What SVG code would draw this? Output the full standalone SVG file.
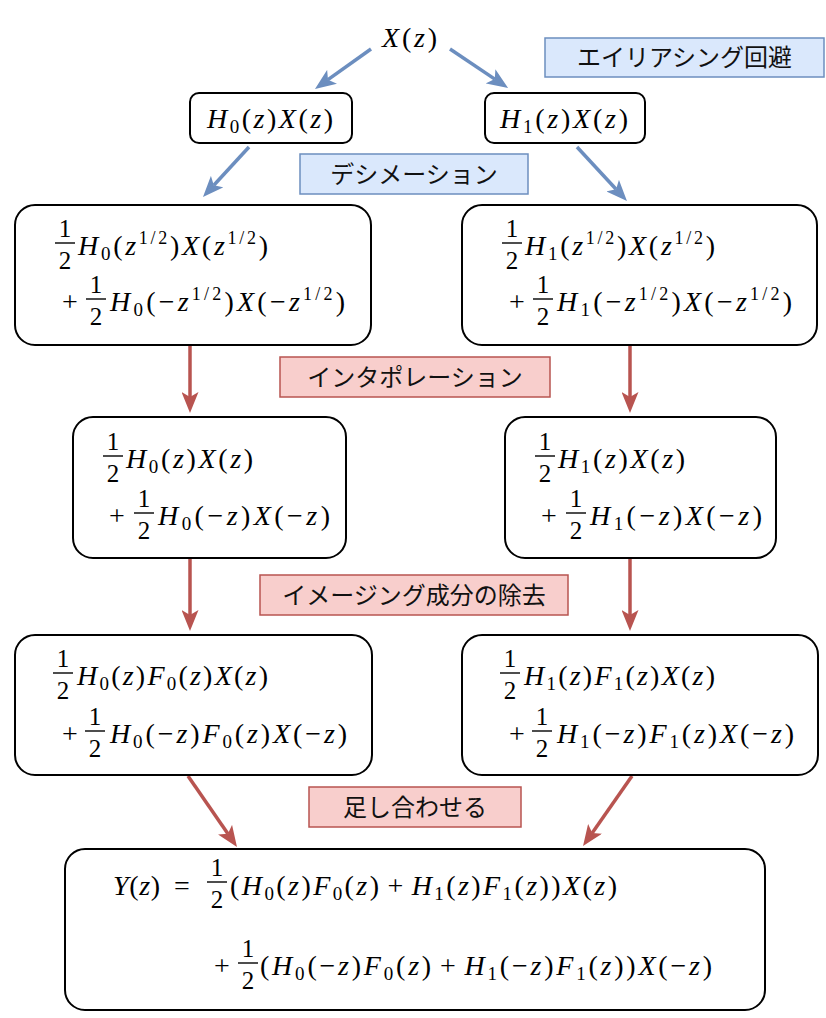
<svg xmlns="http://www.w3.org/2000/svg" width="826" height="1018" viewBox="0 0 826 1018">
<style>
.bx{fill:#fff;stroke:#000;stroke-width:2}
.m{font-family:"Liberation Serif","DejaVu Serif","Times New Roman",serif;font-size:28px;fill:#000}
.i{font-style:italic}
.fr{font-family:"Liberation Serif","DejaVu Serif","Times New Roman",serif;font-size:25px;fill:#000;text-anchor:middle}
.bar{stroke:#000;stroke-width:1.4}
.lb{fill:#dae8fc;stroke:#6c8ebf;stroke-width:1.5}
.lr{fill:#f8cecc;stroke:#b85450;stroke-width:1.5}
.jp{font-family:"Noto Sans CJK JP","Noto Sans CJK SC",sans-serif;font-size:24px;fill:#111;text-anchor:middle}
.ab{stroke:#6c8ebf;stroke-width:3.5;fill:none;marker-end:url(#mb)}
.ar{stroke:#b85450;stroke-width:3.5;fill:none;marker-end:url(#mr)}
</style>
<defs>
<marker id="mb" markerUnits="userSpaceOnUse" markerWidth="21" markerHeight="17" refX="5" refY="8.5" orient="auto"><path d="M0,0 L21,8.5 L0,17 L5,8.5 Z" fill="#6c8ebf"/></marker>
<marker id="mr" markerUnits="userSpaceOnUse" markerWidth="21" markerHeight="17" refX="5" refY="8.5" orient="auto"><path d="M0,0 L21,8.5 L0,17 L5,8.5 Z" fill="#b85450"/></marker>
</defs>
<rect width="826" height="1018" fill="#fff"/>

<g id="connectors">
<line class="ab" x1="371" y1="49" x2="328" y2="79.7"/>
<line class="ab" x1="450" y1="49" x2="494.8" y2="79.1"/>
<line class="ab" x1="249" y1="147" x2="213.8" y2="185.3"/>
<line class="ab" x1="577" y1="147" x2="616.1" y2="189.3"/>
<line class="ar" x1="190" y1="346" x2="190" y2="397"/>
<line class="ar" x1="630" y1="346" x2="630" y2="397"/>
<line class="ar" x1="190" y1="559" x2="190" y2="615"/>
<line class="ar" x1="630" y1="559" x2="630" y2="615"/>
<line class="ar" x1="188" y1="776" x2="227.9" y2="833.8"/>
<line class="ar" x1="632" y1="776" x2="592.2" y2="832.9"/>
</g>

<g id="label-aliasing">
<rect class="lb" x="545" y="38" width="279" height="39"/>
<text class="jp" x="684.5" y="66">エイリアシング回避</text>
</g>
<g id="label-decimation">
<rect class="lb" x="300" y="154" width="228" height="40"/>
<text class="jp" x="414" y="182.5">デシメーション</text>
</g>
<g id="label-interpolation">
<rect class="lr" x="280" y="357" width="270" height="40"/>
<text class="jp" x="415" y="385.5">インタポレーション</text>
</g>
<g id="label-imaging">
<rect class="lr" x="260" y="575" width="308" height="40"/>
<text class="jp" x="414" y="603.5">イメージング成分の除去</text>
</g>
<g id="label-sum">
<rect class="lr" x="309" y="787" width="212" height="40"/>
<text class="jp" x="415" y="815.5">足し合わせる</text>
</g>

<g id="node-x">
<text class="m" x="382" y="47" textLength="55" lengthAdjust="spacing"><tspan class="i">X</tspan>(<tspan class="i">z</tspan>)</text>
</g>

<g id="node-h0x">
<rect class="bx" x="190" y="93" width="162" height="50" rx="9"/>
<text class="m" x="207" y="128" textLength="126" lengthAdjust="spacing"><tspan class="i">H</tspan><tspan font-size="19" dy="5">0</tspan><tspan dy="-5">(</tspan><tspan class="i">z</tspan>)<tspan class="i">X</tspan>(<tspan class="i">z</tspan>)</text>
</g>
<g id="node-h1x">
<rect class="bx" x="485" y="93" width="160" height="50" rx="9"/>
<text class="m" x="500" y="128" textLength="128" lengthAdjust="spacing"><tspan class="i">H</tspan><tspan font-size="19" dy="5">1</tspan><tspan dy="-5">(</tspan><tspan class="i">z</tspan>)<tspan class="i">X</tspan>(<tspan class="i">z</tspan>)</text>
</g>

<g id="node-dec0">
<rect class="bx" x="15" y="205" width="356" height="140" rx="20"/>
<line class="bar" x1="55" y1="243" x2="75" y2="243"/>
<text class="fr" x="65" y="237">1</text><text class="fr" x="65" y="269">2</text>
<text class="m" x="78" y="255" textLength="190" lengthAdjust="spacing"><tspan class="i">H</tspan><tspan font-size="19" dy="5">0</tspan><tspan dy="-5">(</tspan><tspan class="i">z</tspan><tspan font-size="18" dy="-11">1/2</tspan><tspan dy="11">)</tspan><tspan class="i">X</tspan>(<tspan class="i">z</tspan><tspan font-size="18" dy="-11">1/2</tspan><tspan dy="11">)</tspan></text>
<text class="m" x="62" y="311">+</text>
<line class="bar" x1="86" y1="299" x2="106" y2="299"/>
<text class="fr" x="96" y="293">1</text><text class="fr" x="96" y="325">2</text>
<text class="m" x="110" y="311" textLength="235" lengthAdjust="spacing"><tspan class="i">H</tspan><tspan font-size="19" dy="5">0</tspan><tspan dy="-5">(−</tspan><tspan class="i">z</tspan><tspan font-size="18" dy="-11">1/2</tspan><tspan dy="11">)</tspan><tspan class="i">X</tspan>(−<tspan class="i">z</tspan><tspan font-size="18" dy="-11">1/2</tspan><tspan dy="11">)</tspan></text>
</g>

<g id="node-dec1">
<rect class="bx" x="462" y="205" width="355" height="140" rx="20"/>
<line class="bar" x1="502" y1="243" x2="522" y2="243"/>
<text class="fr" x="512" y="237">1</text><text class="fr" x="512" y="269">2</text>
<text class="m" x="525" y="255" textLength="190" lengthAdjust="spacing"><tspan class="i">H</tspan><tspan font-size="19" dy="5">1</tspan><tspan dy="-5">(</tspan><tspan class="i">z</tspan><tspan font-size="18" dy="-11">1/2</tspan><tspan dy="11">)</tspan><tspan class="i">X</tspan>(<tspan class="i">z</tspan><tspan font-size="18" dy="-11">1/2</tspan><tspan dy="11">)</tspan></text>
<text class="m" x="509" y="311">+</text>
<line class="bar" x1="533" y1="299" x2="553" y2="299"/>
<text class="fr" x="543" y="293">1</text><text class="fr" x="543" y="325">2</text>
<text class="m" x="557" y="311" textLength="235" lengthAdjust="spacing"><tspan class="i">H</tspan><tspan font-size="19" dy="5">1</tspan><tspan dy="-5">(−</tspan><tspan class="i">z</tspan><tspan font-size="18" dy="-11">1/2</tspan><tspan dy="11">)</tspan><tspan class="i">X</tspan>(−<tspan class="i">z</tspan><tspan font-size="18" dy="-11">1/2</tspan><tspan dy="11">)</tspan></text>
</g>

<g id="node-int0">
<rect class="bx" x="73" y="417" width="273" height="141" rx="20"/>
<line class="bar" x1="103" y1="456" x2="123" y2="456"/>
<text class="fr" x="113" y="450">1</text><text class="fr" x="113" y="482">2</text>
<text class="m" x="126" y="468" textLength="127" lengthAdjust="spacing"><tspan class="i">H</tspan><tspan font-size="19" dy="5">0</tspan><tspan dy="-5">(</tspan><tspan class="i">z</tspan>)<tspan class="i">X</tspan>(<tspan class="i">z</tspan>)</text>
<text class="m" x="109" y="525">+</text>
<line class="bar" x1="134" y1="513" x2="154" y2="513"/>
<text class="fr" x="144" y="507">1</text><text class="fr" x="144" y="539">2</text>
<text class="m" x="158" y="525" textLength="172" lengthAdjust="spacing"><tspan class="i">H</tspan><tspan font-size="19" dy="5">0</tspan><tspan dy="-5">(−</tspan><tspan class="i">z</tspan>)<tspan class="i">X</tspan>(−<tspan class="i">z</tspan>)</text>
</g>

<g id="node-int1">
<rect class="bx" x="505" y="417" width="271" height="141" rx="20"/>
<line class="bar" x1="535" y1="456" x2="555" y2="456"/>
<text class="fr" x="545" y="450">1</text><text class="fr" x="545" y="482">2</text>
<text class="m" x="558" y="468" textLength="127" lengthAdjust="spacing"><tspan class="i">H</tspan><tspan font-size="19" dy="5">1</tspan><tspan dy="-5">(</tspan><tspan class="i">z</tspan>)<tspan class="i">X</tspan>(<tspan class="i">z</tspan>)</text>
<text class="m" x="541" y="525">+</text>
<line class="bar" x1="566" y1="513" x2="586" y2="513"/>
<text class="fr" x="576" y="507">1</text><text class="fr" x="576" y="539">2</text>
<text class="m" x="590" y="525" textLength="172" lengthAdjust="spacing"><tspan class="i">H</tspan><tspan font-size="19" dy="5">1</tspan><tspan dy="-5">(−</tspan><tspan class="i">z</tspan>)<tspan class="i">X</tspan>(−<tspan class="i">z</tspan>)</text>
</g>

<g id="node-img0">
<rect class="bx" x="15" y="635" width="357" height="140" rx="20"/>
<line class="bar" x1="53" y1="673" x2="73" y2="673"/>
<text class="fr" x="63" y="667">1</text><text class="fr" x="63" y="699">2</text>
<text class="m" x="77" y="685" textLength="191" lengthAdjust="spacing"><tspan class="i">H</tspan><tspan font-size="19" dy="5">0</tspan><tspan dy="-5">(</tspan><tspan class="i">z</tspan>)<tspan class="i">F</tspan><tspan font-size="19" dy="5">0</tspan><tspan dy="-5">(</tspan><tspan class="i">z</tspan>)<tspan class="i">X</tspan>(<tspan class="i">z</tspan>)</text>
<text class="m" x="62" y="743">+</text>
<line class="bar" x1="85" y1="731" x2="105" y2="731"/>
<text class="fr" x="95" y="725">1</text><text class="fr" x="95" y="757">2</text>
<text class="m" x="110" y="743" textLength="237" lengthAdjust="spacing"><tspan class="i">H</tspan><tspan font-size="19" dy="5">0</tspan><tspan dy="-5">(−</tspan><tspan class="i">z</tspan>)<tspan class="i">F</tspan><tspan font-size="19" dy="5">0</tspan><tspan dy="-5">(</tspan><tspan class="i">z</tspan>)<tspan class="i">X</tspan>(−<tspan class="i">z</tspan>)</text>
</g>

<g id="node-img1">
<rect class="bx" x="462" y="635" width="356" height="140" rx="20"/>
<line class="bar" x1="500" y1="673" x2="520" y2="673"/>
<text class="fr" x="510" y="667">1</text><text class="fr" x="510" y="699">2</text>
<text class="m" x="524" y="685" textLength="191" lengthAdjust="spacing"><tspan class="i">H</tspan><tspan font-size="19" dy="5">1</tspan><tspan dy="-5">(</tspan><tspan class="i">z</tspan>)<tspan class="i">F</tspan><tspan font-size="19" dy="5">1</tspan><tspan dy="-5">(</tspan><tspan class="i">z</tspan>)<tspan class="i">X</tspan>(<tspan class="i">z</tspan>)</text>
<text class="m" x="509" y="743">+</text>
<line class="bar" x1="532" y1="731" x2="552" y2="731"/>
<text class="fr" x="542" y="725">1</text><text class="fr" x="542" y="757">2</text>
<text class="m" x="557" y="743" textLength="237" lengthAdjust="spacing"><tspan class="i">H</tspan><tspan font-size="19" dy="5">1</tspan><tspan dy="-5">(−</tspan><tspan class="i">z</tspan>)<tspan class="i">F</tspan><tspan font-size="19" dy="5">1</tspan><tspan dy="-5">(</tspan><tspan class="i">z</tspan>)<tspan class="i">X</tspan>(−<tspan class="i">z</tspan>)</text>
</g>

<g id="node-y">
<rect class="bx" x="65" y="849" width="700" height="161" rx="20"/>
<text class="m" x="113" y="895" textLength="47" lengthAdjust="spacing"><tspan class="i">Y</tspan>(<tspan class="i">z</tspan>)</text>
<text class="m" x="174" y="895">=</text>
<line class="bar" x1="207" y1="882" x2="227" y2="882"/>
<text class="fr" x="217" y="876">1</text><text class="fr" x="217" y="908">2</text>
<text class="m" x="230" y="895" textLength="387" lengthAdjust="spacing">(<tspan class="i">H</tspan><tspan font-size="19" dy="5">0</tspan><tspan dy="-5">(</tspan><tspan class="i">z</tspan>)<tspan class="i">F</tspan><tspan font-size="19" dy="5">0</tspan><tspan dy="-5">(</tspan><tspan class="i">z</tspan>)<tspan dx="6">+</tspan><tspan class="i" dx="6">H</tspan><tspan font-size="19" dy="5">1</tspan><tspan dy="-5">(</tspan><tspan class="i">z</tspan>)<tspan class="i">F</tspan><tspan font-size="19" dy="5">1</tspan><tspan dy="-5">(</tspan><tspan class="i">z</tspan>))<tspan class="i">X</tspan>(<tspan class="i">z</tspan>)</text>
<text class="m" x="214" y="975">+</text>
<line class="bar" x1="238" y1="963" x2="258" y2="963"/>
<text class="fr" x="248" y="957">1</text><text class="fr" x="248" y="989">2</text>
<text class="m" x="260" y="975" textLength="452" lengthAdjust="spacing">(<tspan class="i">H</tspan><tspan font-size="19" dy="5">0</tspan><tspan dy="-5">(−</tspan><tspan class="i">z</tspan>)<tspan class="i">F</tspan><tspan font-size="19" dy="5">0</tspan><tspan dy="-5">(</tspan><tspan class="i">z</tspan>)<tspan dx="6">+</tspan><tspan class="i" dx="6">H</tspan><tspan font-size="19" dy="5">1</tspan><tspan dy="-5">(−</tspan><tspan class="i">z</tspan>)<tspan class="i">F</tspan><tspan font-size="19" dy="5">1</tspan><tspan dy="-5">(</tspan><tspan class="i">z</tspan>))<tspan class="i">X</tspan>(−<tspan class="i">z</tspan>)</text>
</g>
</svg>
